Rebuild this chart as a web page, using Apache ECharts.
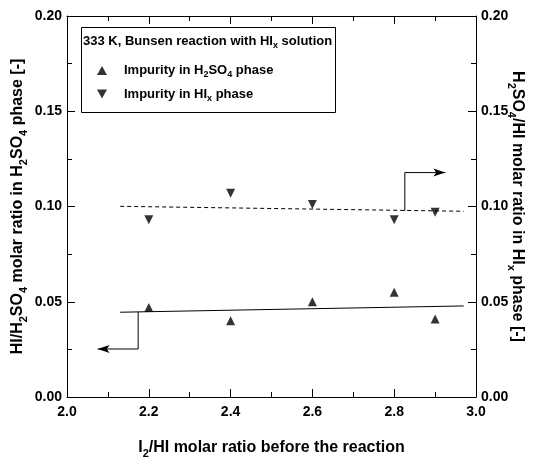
<!DOCTYPE html>
<html>
<head>
<meta charset="utf-8">
<script src="https://cdn.jsdelivr.net/npm/echarts@6/dist/echarts.min.js"></script>
<style>
  html, body { margin: 0; padding: 0; background: #fff; }
  #chart { width: 537px; height: 458px; }
</style>
</head>
<body>
<div id="chart"></div>
<script>
// I2/HI ratio before reaction
const ratios = [2.2, 2.4, 2.6, 2.8, 2.9]
// HI/H2SO4 in H2SO4 phase (left axis)
const impH2SO4 = [0.047, 0.040, 0.050, 0.055, 0.041]
// H2SO4/HI in HIx phase (right axis)
const impHIx = [0.093, 0.107, 0.101, 0.093, 0.097]
// linear fits
const fitH2SO4 = [[2.13, 0.0445], [2.97, 0.0478]]
const fitHIx = [[2.13, 0.1001], [2.97, 0.0975]]
// arrows pointing to the axis each fit belongs to
const arrowLeft = [[2.174, 0.0446], [2.174, 0.0252], [2.075, 0.0252]]
const arrowRight = [[2.826, 0.0976], [2.826, 0.1178], [2.925, 0.1178]]

const FONT = 'Liberation Sans'
const rich = {
  b: { fontFamily: FONT, fontWeight: 'bold', fontSize: 13, color: '#000' },
  s: { fontFamily: FONT, fontWeight: 'bold', fontSize: 9, color: '#000', padding: [9, 0, 0, 0] },
  B: { fontFamily: FONT, fontWeight: 'bold', fontSize: 16, color: '#000' },
  S: { fontFamily: FONT, fontWeight: 'bold', fontSize: 11, color: '#000', padding: [11, 0, 0, 0] }
}

const legendNames = {
  'Impurity in H2SO4 phase': '{b|Impurity in H}{s|2}{b|SO}{s|4}{b| phase}',
  'Impurity in HIx phase': '{b|Impurity in HI}{s|x}{b| phase}'
}

function arrowData(pts, rot) {
  return pts.map((p, i) => i === pts.length - 1
    ? { value: p, symbol: 'arrow', symbolSize: [6, 12], symbolRotate: rot }
    : { value: p, symbol: 'none' })
}

const chart = echarts.init(document.getElementById('chart'))
chart.setOption({
  animation: false,
  grid: { left: 67, right: 61, top: 16, bottom: 61, outerBoundsMode: 'none' },
  xAxis: [{
    type: 'value', min: 2, max: 3, interval: 0.2,
    name: '{B|I}{S|2}{B|/HI molar ratio before the reaction}',
    nameLocation: 'middle', nameGap: 40, nameTextStyle: { rich },
    axisLine: { show: true, onZero: false, lineStyle: { color: '#000' } },
    axisTick: { show: true, inside: true, length: 8, lineStyle: { color: 'black', width: 1 } },
    minorTick: { show: true, splitNumber: 2, length: 5, lineStyle: { color: 'black', width: 1 } },
    axisLabel: { fontFamily: FONT, fontWeight: 'bold', fontSize: 14, color: '#000', margin: 8, formatter: v => v.toFixed(1) },
    splitLine: { show: false }
  }, {
    type: 'value', min: 2, max: 3, interval: 0.2, position: 'top',
    axisLine: { show: true, onZero: false, lineStyle: { color: '#000' } },
    axisTick: { show: true, inside: true, length: 8, lineStyle: { color: 'black', width: 1 } },
    minorTick: { show: true, splitNumber: 2, length: 5, lineStyle: { color: 'black', width: 1 } },
    axisLabel: { show: false },
    splitLine: { show: false }
  }],
  yAxis: [{
    type: 'value', min: 0, max: 0.2, interval: 0.05,
    name: '{B|HI/H}{S|2}{B|SO}{S|4}{B| molar ratio in H}{S|2}{B|SO}{S|4}{B| phase [-]}',
    nameLocation: 'middle', nameGap: 38, nameRotate: 90, nameMoveOverlap: false,
    nameTextStyle: { rich },
    axisLine: { show: true, onZero: false, lineStyle: { color: '#000' } },
    axisTick: { show: true, inside: true, length: 8, lineStyle: { color: 'black', width: 1 } },
    minorTick: { show: true, splitNumber: 2, length: 5, lineStyle: { color: 'black', width: 1 } },
    axisLabel: { fontFamily: FONT, fontWeight: 'bold', fontSize: 14, color: '#000', margin: 5, formatter: v => v.toFixed(2) },
    splitLine: { show: false }
  }, {
    type: 'value', min: 0, max: 0.2, interval: 0.05, position: 'right',
    name: '{B|H}{S|2}{B|SO}{S|4}{B|/HI molar ratio in HI}{S|x}{B| phase [-]}',
    nameLocation: 'middle', nameGap: 30, nameRotate: -90, nameMoveOverlap: false,
    nameTextStyle: { rich },
    axisLine: { show: true, onZero: false, lineStyle: { color: '#000' } },
    axisTick: { show: true, inside: true, length: 8, lineStyle: { color: 'black', width: 1 } },
    minorTick: { show: true, splitNumber: 2, length: 5, lineStyle: { color: 'black', width: 1 } },
    axisLabel: { fontFamily: FONT, fontWeight: 'bold', fontSize: 14, color: '#000', margin: 5, formatter: v => v.toFixed(2) },
    splitLine: { show: false }
  }],
  graphic: [{
    type: 'rect', left: 79, top: 25,
    shape: { width: 254, height: 85 },
    style: { fill: 'none', stroke: '#000', lineWidth: 1 }
  }, {
    type: 'text', left: 83, top: 35,
    style: { text: '{b|333 K, Bunsen reaction with HI}{s|x}{b| solution}', rich }
  }],
  legend: {
    orient: 'vertical', left: 92, top: 59,
    itemWidth: 10, itemHeight: 9, itemGap: 8,
    data: [
      { name: 'Impurity in H2SO4 phase', icon: 'triangle' },
      { name: 'Impurity in HIx phase', icon: 'path://M0,0L10,0L5,9Z' }
    ],
    formatter: name => legendNames[name],
    textStyle: { rich, padding: [0, 0, 0, 12] }
  },
  series: [{
    name: 'Impurity in H2SO4 phase', type: 'scatter', yAxisIndex: 0,
    symbol: 'triangle', symbolSize: 9,
    itemStyle: { color: '#000' },
    data: ratios.map((x, i) => [x, impH2SO4[i]])
  }, {
    name: 'Impurity in HIx phase', type: 'scatter', yAxisIndex: 1,
    symbol: 'path://M0,0L10,0L5,9Z', symbolSize: 9,
    itemStyle: { color: '#000' },
    data: ratios.map((x, i) => [x, impHIx[i]])
  }, {
    type: 'line', yAxisIndex: 0, symbol: 'none', silent: true,
    lineStyle: { color: '#000', width: 1 },
    data: fitH2SO4
  }, {
    type: 'line', yAxisIndex: 1, symbol: 'none', silent: true,
    lineStyle: { color: '#000', width: 1, type: [4, 3] },
    data: fitHIx
  }, {
    type: 'line', yAxisIndex: 0, silent: true,
    itemStyle: { color: '#000' },
    lineStyle: { color: '#000', width: 1 },
    data: arrowData(arrowLeft, 90)
  }, {
    type: 'line', yAxisIndex: 1, silent: true,
    itemStyle: { color: '#000' },
    lineStyle: { color: '#000', width: 1 },
    data: arrowData(arrowRight, -90)
  }]
})
</script>
</body>
</html>
